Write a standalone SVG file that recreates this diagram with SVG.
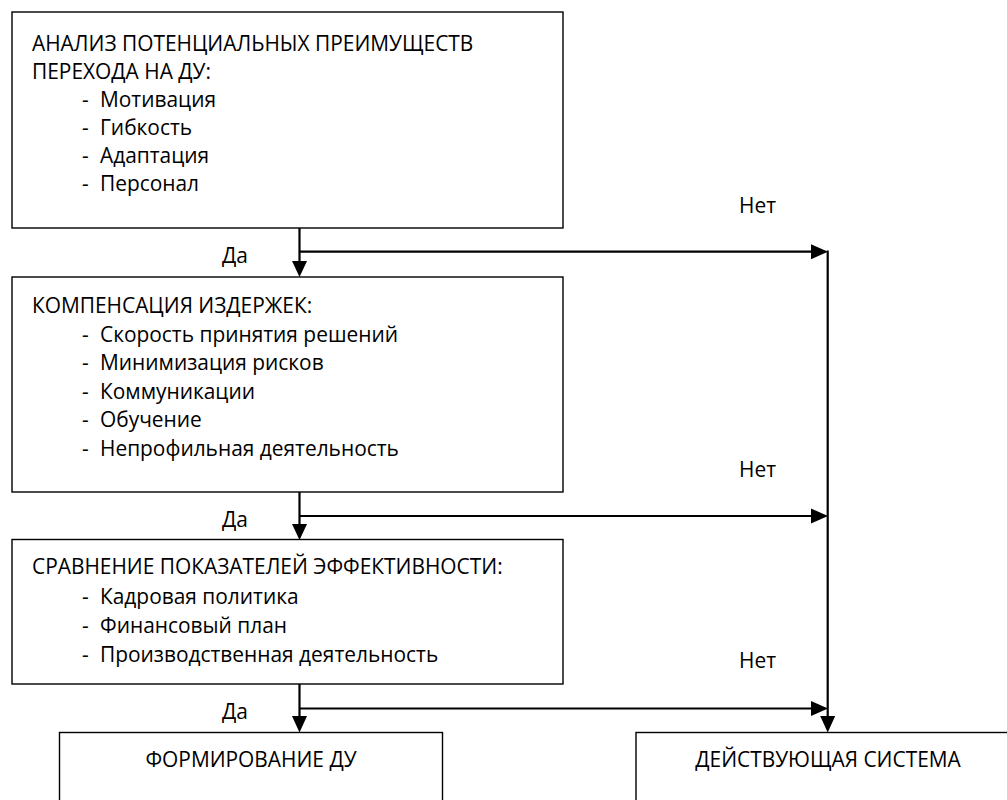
<svg xmlns="http://www.w3.org/2000/svg" width="1007" height="800" viewBox="0 0 1007 800">
<style>
.box{fill:#fff;stroke:#000;stroke-width:1.4}
text{font-family:"Open Sans","Noto Sans","Liberation Sans",sans-serif;font-size:20.9px;fill:#000}
.c{text-anchor:middle}
.ln{fill:none;stroke:#000;stroke-width:2.2}
.ah{fill:#000;stroke:none}
</style>
<rect width="1007" height="800" fill="#fff"/>
<g id="node-analysis">
<rect class="box" x="12" y="12" width="551" height="216"/>
<text x="32" y="50.5">АНАЛИЗ ПОТЕНЦИАЛЬНЫХ ПРЕИМУЩЕСТВ</text>
<text x="32" y="78.5">ПЕРЕХОДА НА ДУ:</text>
<text x="82" y="106.5">-</text><text x="100" y="106.5">Мотивация</text>
<text x="82" y="134.5">-</text><text x="100" y="134.5">Гибкость</text>
<text x="82" y="162.5">-</text><text x="100" y="162.5">Адаптация</text>
<text x="82" y="191">-</text><text x="100" y="191">Персонал</text>
</g>
<g id="node-compensation">
<rect class="box" x="12" y="277" width="551" height="215"/>
<text x="32" y="313">КОМПЕНСАЦИЯ ИЗДЕРЖЕК:</text>
<text x="82" y="341.5">-</text><text x="100" y="341.5">Скорость принятия решений</text>
<text x="82" y="370">-</text><text x="100" y="370">Минимизация рисков</text>
<text x="82" y="398.5">-</text><text x="100" y="398.5">Коммуникации</text>
<text x="82" y="427">-</text><text x="100" y="427">Обучение</text>
<text x="82" y="456">-</text><text x="100" y="456">Непрофильная деятельность</text>
</g>
<g id="node-comparison">
<rect class="box" x="12" y="539.5" width="551" height="144.5"/>
<text x="32" y="574">СРАВНЕНИЕ ПОКАЗАТЕЛЕЙ ЭФФЕКТИВНОСТИ:</text>
<text x="82" y="603.5">-</text><text x="100" y="603.5">Кадровая политика</text>
<text x="82" y="632.5">-</text><text x="100" y="632.5">Финансовый план</text>
<text x="82" y="662">-</text><text x="100" y="662">Производственная деятельность</text>
</g>
<g id="node-formation">
<rect class="box" x="59.5" y="732.5" width="383" height="100"/>
<text class="c" x="251" y="766.5">ФОРМИРОВАНИЕ ДУ</text>
</g>
<g id="node-current">
<rect class="box" x="636" y="732.5" width="420" height="100"/>
<text class="c" x="828" y="766.5">ДЕЙСТВУЮЩАЯ СИСТЕМА</text>
</g>
<g id="connectors">
<path class="ln" d="M299.5,228 V262 M299.5,492 V525 M299.5,684 V717"/>
<path class="ln" d="M299.5,251.7 H813 M299.5,516 H813 M299.5,708.5 H813"/>
<path class="ln" d="M827.7,250.6 V717"/>
<polygon class="ah" points="292,261 307,261 299.5,277"/>
<polygon class="ah" points="292,524 307,524 299.5,540"/>
<polygon class="ah" points="292,716 307,716 299.5,732.5"/>
<polygon class="ah" points="820.2,716 835.2,716 827.7,732.5"/>
<polygon class="ah" points="811,244.2 811,259.2 828,251.7"/>
<polygon class="ah" points="811,508.5 811,523.5 828,516"/>
<polygon class="ah" points="811,701 811,716 828,708.5"/>
<text x="222" y="263">Да</text>
<text x="222" y="527">Да</text>
<text x="222" y="719">Да</text>
<text x="739" y="213">Нет</text>
<text x="739" y="476.5">Нет</text>
<text x="739" y="668">Нет</text>
</g>
</svg>
